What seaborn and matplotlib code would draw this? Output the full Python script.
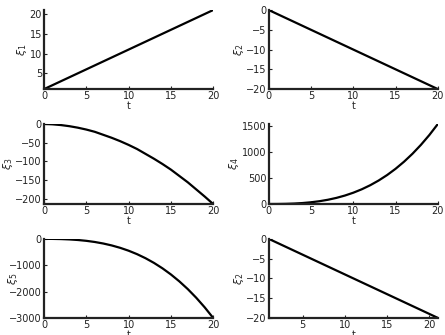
import numpy as np
import pandas as pd
import matplotlib
matplotlib.use("Agg")
import matplotlib.pyplot as plt
import seaborn as sns

sns.set_theme(style="white")
plt.rcParams['font.family'] = ['DejaVu Sans']

t = list(range(0, 21))
t_shift = list(range(1, 22))
xi1 = [1, 2, 3, 4, 5, 6, 7, 8, 9, 10, 11, 12, 13, 14, 15, 16, 17, 18, 19, 20, 21]
xi2 = [0, -1, -2, -3, -4, -5, -6, -7, -8, -9, -10, -11, -12, -13, -14, -15, -16, -17, -18, -19, -20]
xi3 = [0, -1, -3, -6, -10, -15, -21, -29, -37, -46, -56, -67, -80, -93, -107, -122, -139, -156, -175, -194, -214]
xi4 = [0, 0.7, 3.3, 9, 18.7, 33.3, 54, 81.7, 117.3, 162, 216.7, 282.3, 360, 450.7, 555.3,
       675, 810.7, 963.3, 1134, 1323.3, 1533.3]
xi5 = [0, -1.8, -8.4, -21.6, -43.2, -75, -118.8, -176.4, -249.6, -340.2, -450, -580.8,
       -734.4, -912.6, -1117.2, -1350, -1612.8, -1906.8, -2235.6, -2599.2, -3000]
xi6 = [0, -1, -2, -3, -4, -5, -6, -7, -8, -9, -10, -11, -12, -13, -14, -15, -16, -17, -18, -19, -20]

panels = [
    (t, xi1, r'$\xi_1$', [0, 5, 10, 15, 20], [5, 10, 15, 20]),
    (t, xi2, r'$\xi_2$', [0, 5, 10, 15, 20], [0, -5, -10, -15, -20]),
    (t, xi3, r'$\xi_3$', [0, 5, 10, 15, 20], [0, -50, -100, -150, -200]),
    (t, xi4, r'$\xi_4$', [0, 5, 10, 15, 20], [0, 500, 1000, 1500]),
    (t, xi5, r'$\xi_5$', [0, 5, 10, 15, 20], [0, -1000, -2000, -3000]),
    (t_shift, xi6, r'$\xi_2$', [5, 10, 15, 20], [0, -5, -10, -15, -20]),
]

fig = plt.figure(figsize=(4.45, 3.35), dpi=100)
lefts = [0.099, 0.604]
width = 0.380
rows = [(0.734, 0.236), (0.391, 0.239), (0.051, 0.236)]

for i, (x, y, lab, xt, yt) in enumerate(panels):
    r, c = divmod(i, 2)
    b, h = rows[r]
    ax = fig.add_axes([lefts[c], b, width, h])
    df = pd.DataFrame({'t': x, 'v': y})
    sns.lineplot(data=df, x='t', y='v', ax=ax, color='black', linewidth=1.6)
    ax.set_xlim(min(x), max(x))
    ax.set_ylim(min(y), max(y))
    ax.set_xticks(xt)
    ax.set_yticks(yt)
    ax.tick_params(direction='in', length=2.5, width=0.8, labelsize=7,
                   colors='#222222', pad=1.5, left=True, bottom=True)
    for s in ['top', 'right']:
        ax.spines[s].set_visible(False)
    for s in ['left', 'bottom']:
        ax.spines[s].set_linewidth(1.6)
        ax.spines[s].set_color('#222222')
    ax.set_xlabel('t', fontsize=7, labelpad=0)
    ax.set_ylabel(lab, fontsize=8, labelpad=0.5)
    if i == 4:
        ax.yaxis.set_label_coords(-0.14, 0.5)
    ax.set_facecolor('white')

fig.savefig('out.png', dpi=100, facecolor='white')
